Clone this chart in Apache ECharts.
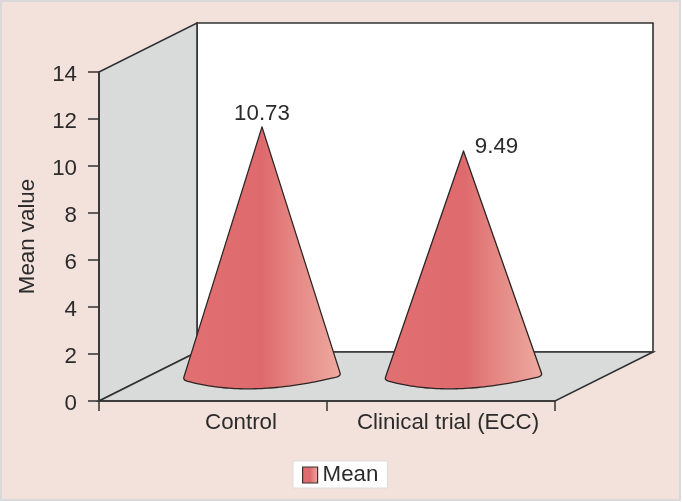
<!DOCTYPE html>
<html><head><meta charset="utf-8">
<style>html,body{margin:0;padding:0;background:#fff}#c{width:682px;height:502px}</style>
<script src="https://cdn.jsdelivr.net/npm/echarts@6/dist/echarts.min.js"></script>
</head><body><div id="c"></div>
<script>
const categories = ['Control', 'Clinical trial (ECC)'];
const meanValues = [10.73, 9.49];
const yTicks = {min: 0, max: 14, interval: 2};
const seriesName = 'Mean';
const axisTitle = 'Mean value';

// layout constants
const FONT = '"Liberation Sans", Arial, sans-serif';
const FS = 22.3;
const TEXT = '#2b2b2b', LINE = '#333333';
const DEPTH = {x: 98, y: -49};
const coneShiftX = [49, 22.5];
const coneShiftY = [-22, -27];
const labelShift = [[0, -13], [33, -4]];
const labelPad = [56, 14];
const HALF = 79;

const coneFill = {type: 'linear', x: 0, y: 0, x2: 1, y2: 0, colorStops: [
  {offset: 0, color: '#e17073'}, {offset: 0.5, color: '#de6a6d'},
  {offset: 0.72, color: '#e58985'}, {offset: 1, color: '#eeaaa0'}]};

function renderFrame(params) {
  const g = params.coordSys;
  const L = g.x, R = g.x + g.width, T = g.y, B = g.y + g.height, dx = DEPTH.x, dy = DEPTH.y;
  const stroke = {stroke: LINE, lineWidth: 1.6};
  return {type: 'group', children: [
    {type: 'polygon', shape: {points: [[L + dx, T + dy], [R + dx, T + dy], [R + dx, B + dy], [L + dx, B + dy]]},
      style: {fill: '#fff', ...stroke}},
    {type: 'polygon', shape: {points: [[L, T], [L + dx, T + dy], [L + dx, B + dy], [L, B]]},
      style: {fill: '#d9dbda', ...stroke}},
    {type: 'polygon', shape: {points: [[L, B], [R, B], [R + dx, B + dy], [L + dx, B + dy]]},
      style: {fill: '#d9dbda', ...stroke}}
  ]};
}

function bez(a, c, b, t) {
  const u = 1 - t;
  return [u * u * a[0] + 2 * u * t * c[0] + t * t * b[0], u * u * a[1] + 2 * u * t * c[1] + t * t * b[1]];
}
function toward(p, q, d) {
  const l = Math.hypot(q[0] - p[0], q[1] - p[1]);
  return [p[0] + (q[0] - p[0]) * d / l, p[1] + (q[1] - p[1]) * d / l];
}

function renderCone(params, api) {
  const i = api.value(0), v = api.value(1);
  const top = api.coord([i, v]), base = api.coord([i, 0]);
  const cx = top[0] + coneShiftX[i];
  const apex = [cx, top[1] + coneShiftY[i]];
  const by = base[1] + DEPTH.y / 2;
  const p0 = [cx + HALF, by - 0.5], c = [cx - 14, by + 23], p1 = [cx - HALF, by + 3.5];
  const pts = [apex];
  // rounded right corner
  const r0a = toward(p0, apex, 3), r0b = bez(p0, c, p1, 0.03);
  for (let k = 0; k <= 6; k++) pts.push(bez(r0a, p0, r0b, k / 6));
  for (let k = 2; k <= 48; k++) pts.push(bez(p0, c, p1, 0.03 + 0.94 * k / 50));
  // rounded left corner
  const r1a = bez(p0, c, p1, 0.97), r1b = toward(p1, apex, 3);
  for (let k = 0; k <= 6; k++) pts.push(bez(r1a, p1, r1b, k / 6));
  return {type: 'group', children: [
    {type: 'polygon', shape: {points: pts}, style: {fill: coneFill, stroke: '#2e2424', lineWidth: 1.3, lineJoin: 'round'}},
    {type: 'text', x: apex[0] + labelShift[i][0], y: apex[1] + labelShift[i][1],
      style: {text: String(v.toFixed(2)), fill: TEXT, font: FS + 'px ' + FONT, align: 'center', verticalAlign: 'middle'}}
  ]};
}

const rich = {};
categories.forEach((c, i) => { rich['c' + i] = {padding: [0, 0, 0, labelPad[i]], fontSize: FS, fontFamily: FONT, color: TEXT}; });

const chart = echarts.init(document.getElementById('c'), null, {renderer: 'canvas'});
chart.setOption({
  animation: false,
  backgroundColor: 'transparent',
  textStyle: {fontFamily: FONT},
  graphic: [{type: 'rect', z: -10, shape: {x: 1, y: 1, width: 679, height: 499},
    style: {fill: '#f3e2dc', stroke: '#d9d9d9', lineWidth: 2}, silent: true}],
  grid: {left: 99, top: 72, width: 456, height: 329, containLabel: false},
  legend: {
    left: 293, top: 461, data: [{name: seriesName, icon: 'rect'}], orient: 'horizontal',
    padding: [2, 9, 1, 9], backgroundColor: '#fff', borderColor: '#dcdcdc', borderWidth: 1,
    itemWidth: 15, itemHeight: 16, selectedMode: false,
    textStyle: {fontSize: FS, color: TEXT, fontFamily: FONT, lineHeight: 24},
    itemStyle: {color: coneFill, borderColor: '#3a3030', borderWidth: 1.2}
  },
  xAxis: {
    type: 'category', data: categories, z: 3,
    axisLine: {lineStyle: {color: LINE, width: 1.6}},
    axisTick: {show: true, length: 10, lineStyle: {color: LINE, width: 1.5}},
    axisLabel: {interval: 0, margin: 11, hideOverlap: false, fontSize: FS, color: TEXT,
      formatter: (val) => '{c' + categories.indexOf(val) + '|' + val + '}', rich}
  },
  yAxis: {
    type: 'value', min: yTicks.min, max: yTicks.max, interval: yTicks.interval, z: 3,
    name: axisTitle, nameLocation: 'middle', nameGap: 60, nameRotate: 90,
    nameTextStyle: {fontSize: FS, color: TEXT, fontFamily: FONT},
    splitLine: {show: false},
    axisLine: {show: true, lineStyle: {color: LINE, width: 1.6}},
    axisTick: {show: true, length: 11, lineStyle: {color: LINE, width: 1.5}},
    axisLabel: {margin: 22, color: TEXT, formatter: (v) => '{t|' + v + '}',
      rich: {t: {padding: [5, 0, 0, 0], fontSize: FS, fontFamily: FONT, color: TEXT}}}
  },
  series: [
    {type: 'custom', name: 'frame', z: -1, silent: true, data: [[0, 0]], renderItem: renderFrame},
    {type: 'custom', name: seriesName, z: 2, itemStyle: {color: coneFill},
      data: categories.map((c, i) => [i, meanValues[i]]), renderItem: renderCone}
  ]
});
</script></body></html>
